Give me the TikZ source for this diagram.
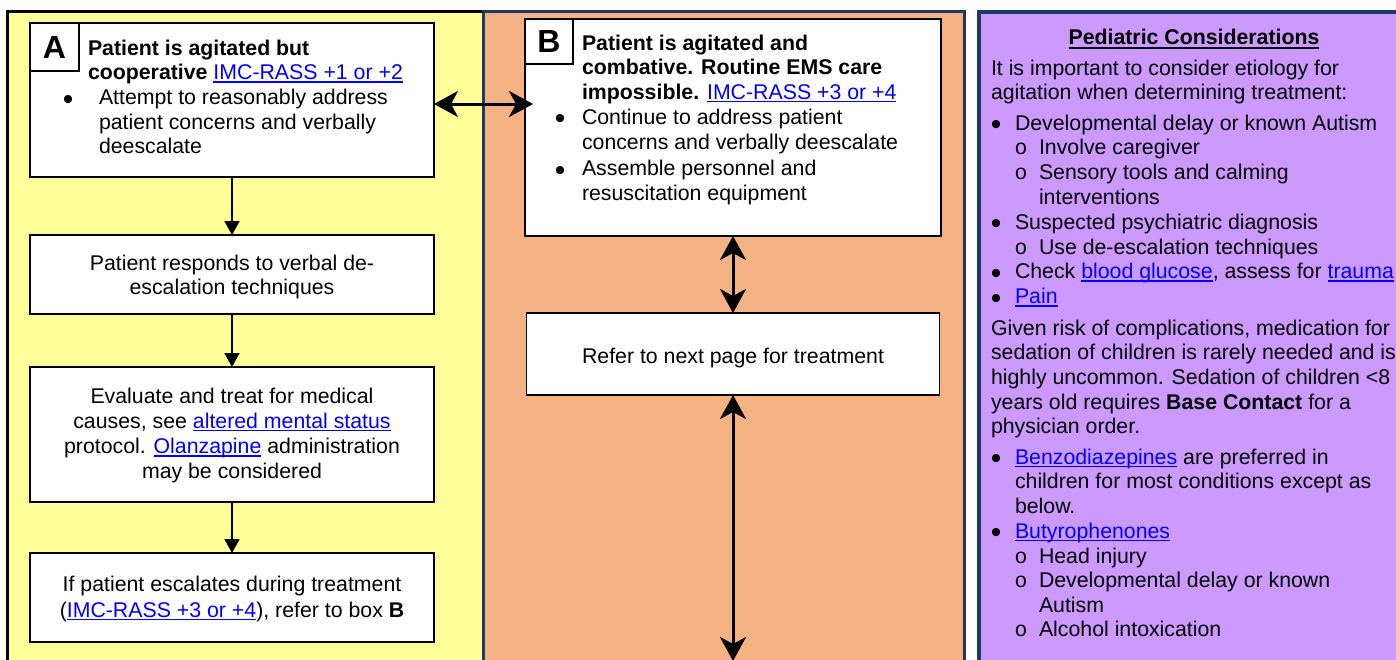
\documentclass[tikz,border=0pt]{standalone}
\usepackage{fontspec}
\setmainfont{Liberation Sans}
\newfontfamily\monof{Liberation Mono}
\usetikzlibrary{arrows.meta}
\definecolor{yelc}{HTML}{FFFF99}
\definecolor{orac}{HTML}{F4B183}
\definecolor{purc}{HTML}{CC99FF}
\definecolor{navyc}{HTML}{1F3864}
\definecolor{lblue}{HTML}{0000FF}
\newcommand\fs{\fontsize{21.3}{24.6}\selectfont}
\newcommand\bl[1]{\leavevmode\llap{\smash{\raisebox{-4.5pt}{\fontsize{30}{30}\selectfont\textbullet}}\hspace{#1}}}
\newcommand\sbl{\leavevmode\llap{{\monof o}\hspace{11.5pt}}}
\newcommand\lnk[1]{{\color{lblue}\setbox0=\hbox{#1}\rlap{\rule[-3pt]{\wd0}{1.4pt}}\box0}}
\newcommand\hul[1]{{\setbox0=\hbox{#1}\rlap{\rule[-4.5pt]{\wd0}{2pt}}\box0}}
\begin{document}
\begin{tikzpicture}[x=1pt,y=-1pt,
  boxst/.style={draw=black, line width=1.5pt, fill=white, inner sep=0pt, outer sep=0pt},
  letterst/.style={draw=black, line width=1.2pt, fill=white, inner sep=0pt, font=\fontsize{32}{32}\selectfont\bfseries},
  txt/.style={inner sep=0pt, outer sep=0pt, anchor=base west, align=left, font=\fs},
  ctxt/.style={inner sep=0pt, outer sep=0pt, anchor=base, align=center, font=\fs},
  thinarrow/.style={line width=1.5pt, -{Triangle[length=14pt,width=15pt]}},
  bigarrow/.style={line width=3pt, {Stealth[length=24pt,width=26pt,inset=7pt]}-{Stealth[length=24pt,width=26pt,inset=7pt]}}]
\useasboundingbox (0,0) rectangle (1396,659);
\clip (0,0) rectangle (1396,659);
\fill[white] (0,0) rectangle (1396,659);
% panels
\draw[fill=yelc, draw=black, line width=3pt] (7.5,11.5) rectangle (495,700);
\draw[fill=orac, draw=navyc, line width=3pt] (483.5,11.5) rectangle (964.5,700);
\draw[fill=purc, draw=navyc, line width=4pt] (978.7,12) rectangle (1430,700);

% column A boxes (text nodes placed by the baseline of their last line)
\node[boxst, minimum width=404pt, minimum height=154pt] (A) at (232,100) {};
\node[letterst, minimum width=49pt, minimum height=48pt] (Aletter) at (54.5,47) {A};
\node[txt, font=\fs\bfseries] (Atitle) at (88,79.6) {Patient is agitated but\\cooperative \mdseries\lnk{IMC-RASS +1 or +2}};
\node[txt] (Abul) at (99,153.7) {\bl{25.7pt}Attempt to reasonably address\\patient concerns and verbally\\deescalate};

\node[boxst, minimum width=404pt, minimum height=79pt] (A2) at (232,274.5) {};
\node[ctxt] (A2t) at (232,294.6) {Patient responds to verbal de-\\escalation techniques};

\node[boxst, minimum width=404pt, minimum height=135pt] (A3) at (232,434.5) {};
\node[ctxt, font=\fontsize{21.3}{25.3}\selectfont] (A3t) at (232,478.9) {Evaluate and treat for medical\\causes, see \lnk{altered mental status}\\protocol. \lnk{Olanzapine} administration\\may be considered};

\node[boxst, minimum width=404pt, minimum height=89pt] (A4) at (232,597.5) {};
\node[ctxt, font=\fontsize{21.3}{25.6}\selectfont] (A4t) at (232,617.3) {If patient escalates during treatment\\(\lnk{IMC-RASS +3 or +4}), refer to box \textbf{B}};

\draw[thinarrow] (A.south) -- (A2.north);
\draw[thinarrow] (A2.south) -- (A3.north);
\draw[thinarrow] (A3.south) -- (A4.north);

% column B boxes
\node[boxst, minimum width=416pt, minimum height=217pt] (B) at (733,127.5) {};
\node[letterst, minimum width=48pt, minimum height=45pt] (Bletter) at (549,41.5) {B};
\node[txt, font=\fontsize{21.3}{24.6}\selectfont\bfseries] (Btitle) at (582,99.2) {Patient is agitated and\\combative. Routine EMS care\\impossible. \mdseries\lnk{IMC-RASS +3 or +4}};
\node[txt, font=\fontsize{21.3}{25}\selectfont] (Bbul1) at (582,149) {\bl{16.7pt}Continue to address patient\\concerns and verbally deescalate};
\node[txt] (Bbul2) at (582,200.3) {\bl{16.7pt}Assemble personnel and\\resuscitation equipment};

\node[boxst, minimum width=413pt, minimum height=82pt] (B2) at (733,354) {};
\node[ctxt] (B2t) at (733,363.3) {Refer to next page for treatment};

\coordinate (hy) at (0,104);
\coordinate (bend) at (733,661);
\draw[bigarrow] (A.east |- hy) -- ([xshift=8pt]B.west |- hy);
\draw[bigarrow] (B.south) -- (B2.north);
\draw[bigarrow] (B2.south) -- (bend);

% pediatric panel
\node[ctxt, font=\fs\bfseries] (ph) at (1194,44) {\hul{Pediatric Considerations}};
\node[txt, font=\fontsize{21.3}{24.8}\selectfont] (p1) at (991,99.8) {It is important to consider etiology for\\agitation when determining treatment:};
\node[txt] (pb1) at (1015,130) {\bl{13.7pt}Developmental delay or known Autism};
\node[txt, font=\fontsize{21.3}{24.8}\selectfont] (ps1) at (1039,204.4) {\sbl Involve caregiver\\\sbl Sensory tools and calming\\interventions};
\node[txt] (pb2) at (1015,229.2) {\bl{13.7pt}Suspected psychiatric diagnosis};
\node[txt] (ps2) at (1039,254) {\sbl Use de-escalation techniques};
\node[txt, font=\fontsize{21.3}{24.8}\selectfont] (pb3) at (1015,303.6) {\bl{13.7pt}Check \lnk{blood glucose}, assess for \lnk{trauma}\\\bl{13.7pt}\lnk{Pain}};
\node[txt, font=\fontsize{21.3}{24.7}\selectfont] (p2) at (991,433.8) {Given risk of complications, medication for\\sedation of children is rarely needed and is\\highly uncommon. Sedation of children <8\\years old requires \textbf{Base Contact} for a\\physician order.};
\node[txt, font=\fontsize{21.3}{24.7}\selectfont] (pb4) at (1015,538.1) {\bl{13.7pt}\lnk{Benzodiazepines} are preferred in\\children for most conditions except as\\below.\\\bl{13.7pt}\lnk{Butyrophenones}};
\node[txt, font=\fontsize{21.3}{24.4}\selectfont] (ps3) at (1039,636.5) {\sbl Head injury\\\sbl Developmental delay or known\\Autism\\\sbl Alcohol intoxication};
\end{tikzpicture}
\end{document}
